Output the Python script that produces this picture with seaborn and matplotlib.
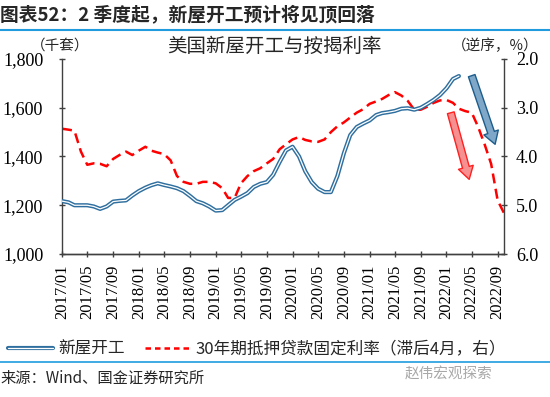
import numpy as np
import pandas as pd
import seaborn as sns
import matplotlib
matplotlib.use('Agg')
import matplotlib.pyplot as plt
from matplotlib.lines import Line2D
from matplotlib.legend_handler import HandlerTuple

# data
starts_months = pd.date_range('2017-01-01', '2022-03-01', freq='MS')
starts = [1217, 1212, 1200, 1200, 1200, 1195, 1185, 1195, 1215, 1218,
          1220, 1240, 1258, 1272, 1282, 1290, 1283, 1277, 1270, 1258,
          1238, 1217, 1208, 1195, 1178, 1180, 1200, 1222, 1235, 1250,
          1275, 1288, 1295, 1325, 1378, 1425, 1440, 1400, 1340, 1295,
          1268, 1254, 1254, 1320, 1414, 1488, 1521, 1535, 1548, 1570,
          1578, 1582, 1587, 1596, 1598, 1592, 1600, 1615, 1632, 1652,
          1680, 1718, 1730]

rate_months = pd.date_range('2017-01-01', '2022-10-01', freq='MS')
rate = [3.43, 3.45, 3.47, 3.90, 4.17, 4.14, 4.15, 4.20, 4.05, 3.97,
        3.90, 3.97, 3.88, 3.80, 3.88, 3.92, 3.95, 4.08, 4.40, 4.52,
        4.56, 4.56, 4.52, 4.52, 4.55, 4.65, 4.85, 4.85, 4.55, 4.40,
        4.30, 4.24, 4.14, 4.05, 3.85, 3.75, 3.65, 3.60, 3.66, 3.69,
        3.70, 3.65, 3.50, 3.38, 3.30, 3.20, 3.10, 3.03, 2.92, 2.87,
        2.82, 2.74, 2.68, 2.75, 2.86, 3.04, 3.04, 2.98, 2.90, 2.85,
        2.84, 2.90, 3.02, 3.07, 3.10, 3.40, 3.75, 4.15, 4.90, 5.16]

tick_months = pd.date_range('2017-01-01', '2022-09-01', freq='4MS')
left_ticks = [1000, 1200, 1400, 1600, 1800]
right_ticks = [2.0, 3.0, 4.0, 5.0, 6.0]

df_s = pd.DataFrame({'month': starts_months, 'starts': starts})
df_r = pd.DataFrame({'month': rate_months, 'rate': rate})

sns.set_style('ticks')
plt.rcParams['font.family'] = ['Noto Sans CJK SC', 'DejaVu Sans']
plt.rcParams['axes.unicode_minus'] = False

blue = '#2f6f9f'
red = '#ff0000'
line_blue = '#1f9bde'
axis_col = '#404040'
num_font = 'Liberation Serif'

fig = plt.figure(figsize=(5.5, 3.97), dpi=100)
ax = fig.add_axes([0.1127, 0.3602, 0.8036, 0.4912])
ax2 = ax.twinx()

# housing starts: double line (blue outline, white core)
sns.lineplot(data=df_s, x='month', y='starts', ax=ax, color=blue, lw=3.0, zorder=3)
sns.lineplot(data=df_s, x='month', y='starts', ax=ax, color='white', lw=0.9, zorder=4)
sns.lineplot(data=df_r, x='month', y='rate', ax=ax2, color=red, lw=1.8,
             linestyle=(0, (4, 2.2)))
ax.set_zorder(ax2.get_zorder() + 1)
ax.patch.set_visible(False)

ax.set_xlim(rate_months[0], rate_months[-1])
ax.set_ylim(1000, 1800)
ax.set_yticks(left_ticks)
ax.set_yticklabels([f'{v:,}' for v in left_ticks], fontfamily=num_font, fontsize=13)
ax2.set_ylim(6.0, 2.0)
ax2.set_yticks(right_ticks)
ax2.set_yticklabels([f'{v:.1f}' for v in right_ticks], fontfamily=num_font, fontsize=13)
ax.set_xticks(tick_months)
ax.set_xticklabels([d.strftime('%Y/%m') for d in tick_months], rotation=90,
                   fontfamily=num_font, fontsize=12)
for a in (ax, ax2):
    a.set_xlabel('')
    a.set_ylabel('')
    a.spines['top'].set_visible(False)
    for s in ('left', 'right', 'bottom'):
        a.spines[s].set_color(axis_col)
        a.spines[s].set_linewidth(1.0)
    a.tick_params(colors=axis_col, labelcolor='black', direction='inout', length=5, width=1)
ax.spines['right'].set_visible(False)
ax2.spines['left'].set_visible(False)
ax.tick_params(axis='y', pad=11)
ax2.tick_params(axis='y', pad=6)
ax.tick_params(axis='x', pad=5)

# arrows
ax.annotate('', xy=(0.982, 0.549), xytext=(0.925, 0.928), xycoords='axes fraction',
            arrowprops=dict(arrowstyle='simple,head_width=1.1,head_length=0.9,tail_width=0.5',
                            fc='#7ea7c8', ec='#1d5d8c', lw=1.0))
ax.annotate('', xy=(0.923, 0.369), xytext=(0.878, 0.738), xycoords='axes fraction',
            arrowprops=dict(arrowstyle='simple,head_width=1.1,head_length=0.9,tail_width=0.5',
                            fc='#f79090', ec='#ff2020', lw=1.0))

# texts
fig.text(0.0, 1 - 15 / 397, '图表52：2 季度起，新屋开工预计将见顶回落', fontsize=13.5,
         fontweight='bold', va='center', ha='left', style='italic')
fig.add_artist(Line2D([0, 1], [1 - 30 / 397] * 2, color=line_blue, lw=1.5))
fig.text(274 / 550, 1 - 46 / 397, '美国新屋开工与按揭利率', fontsize=14, ha='center', va='center')
fig.text(60 / 550, 1 - 46 / 397, '（千套）', fontsize=10.5, ha='center', va='center')
fig.text(495 / 550, 1 - 46 / 397, '（逆序，%）', fontsize=10.5, ha='center', va='center')

h_blue = (Line2D([], [], color=blue, lw=3.0), Line2D([], [], color='white', lw=0.9))
h_red = Line2D([], [], color=red, lw=1.8, linestyle=(0, (2.2, 1.6)))
fig.legend([h_blue, h_red], ['新屋开工', '30年期抵押贷款固定利率（滞后4月，右）'],
           handler_map={tuple: HandlerTuple(ndivide=1)}, ncol=2, frameon=False,
           loc='center', bbox_to_anchor=(257 / 550, 1 - 349 / 397), fontsize=12,
           handlelength=2.7, handletextpad=0.3, columnspacing=1.2)
fig.add_artist(Line2D([0, 1], [1 - 362 / 397] * 2, color=line_blue, lw=1.2))
fig.text(0.0, 1 - 378 / 397, '来源：Wind、国金证券研究所', fontsize=11, ha='left', va='center')
fig.text(405 / 550, 1 - 375 / 397, '赵伟宏观探索', fontsize=10.5, color='#a8a8a8',
         ha='left', va='center')

fig.savefig('out.png', dpi=100)
